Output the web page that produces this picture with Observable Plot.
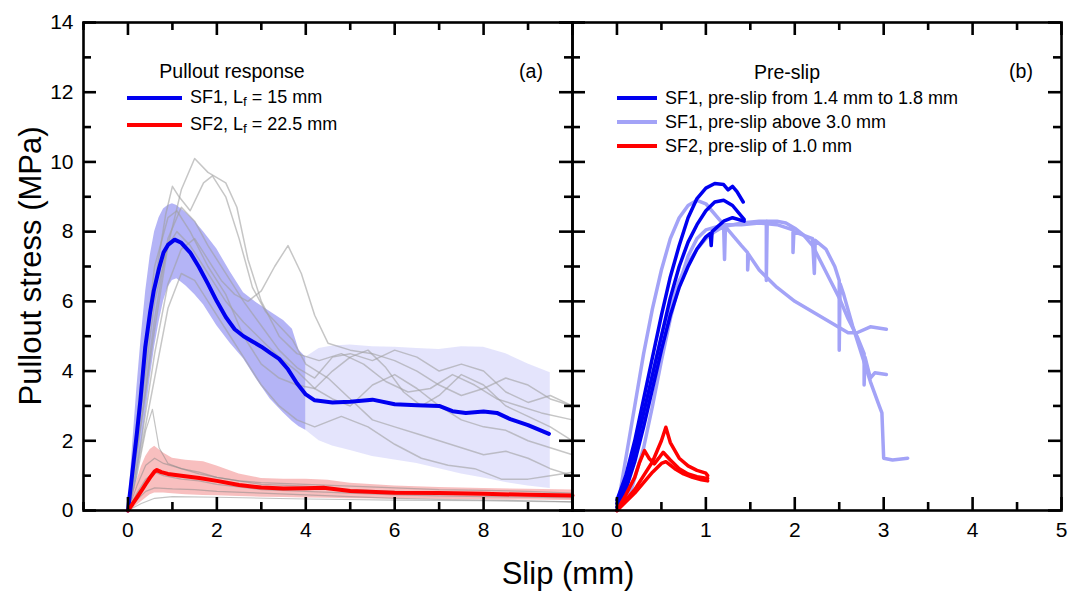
<!DOCTYPE html>
<html><head><meta charset="utf-8">
<script src="https://cdn.jsdelivr.net/npm/d3@7"></script>
<script src="https://cdn.jsdelivr.net/npm/@observablehq/plot@0.6"></script>
<style>
body{margin:0;background:#fff;font-family:"Liberation Sans",Arial,sans-serif;}
#wrap{position:relative;width:1070px;height:592px;overflow:hidden;}
.abs{position:absolute;white-space:nowrap;color:#000;line-height:1;}
.pl{position:absolute;top:0;}
.ln{position:absolute;height:4px;}
sub{font-size:0.75em;vertical-align:-0.25em;}
</style></head>
<body><div id="wrap"></div>
<script>
// ---------- tick values ----------
const yMajor = [0, 2, 4, 6, 8, 10, 12, 14];
const yMinor = [1, 3, 5, 7, 9, 11, 13];
const xMajorA = [0, 2, 4, 6, 8, 10];
const xMinorA = [-1, 1, 3, 5, 7, 9];
const xMajorB = [0, 1, 2, 3, 4, 5];
const xMinorB = [0.5, 1.5, 2.5, 3.5, 4.5];

// ---------- panel (a): mean curves ----------
const sf1Mean = [[0,0],[0.1,1.1],[0.2,2.2],[0.28,3.16],[0.39,4.7],[0.5,5.7],[0.58,6.3],[0.7,6.95],[0.8,7.4],[0.9,7.62],[1.05,7.77],[1.2,7.68],[1.4,7.4],[1.6,6.98],[1.8,6.5],[2.0,6.0],[2.2,5.55],[2.4,5.2],[2.6,5.0],[2.8,4.85],[3.0,4.7],[3.2,4.52],[3.4,4.35],[3.6,4.05],[3.8,3.65],[4.0,3.33],[4.2,3.16],[4.6,3.1],[5.0,3.12],[5.5,3.18],[6.0,3.05],[6.5,3.02],[7.0,3.0],[7.3,2.85],[7.6,2.8],[8.0,2.84],[8.3,2.8],[8.6,2.62],[9.0,2.45],[9.47,2.2]];
const sf2Mean = [[0,0],[0.1,0.18],[0.2,0.37],[0.3,0.56],[0.4,0.76],[0.5,0.95],[0.6,1.12],[0.65,1.16],[0.75,1.1],[0.9,1.05],[1.2,1.0],[1.6,0.93],[2.0,0.85],[2.5,0.73],[3.0,0.66],[3.5,0.63],[4.0,0.64],[4.4,0.65],[5.0,0.56],[6.0,0.51],[7.0,0.5],[8.0,0.48],[9.0,0.45],[10.0,0.43]];

// scatter bands [x, lower, upper]
const sf1BandNear = [[0,0,0],[0.1,0.3,1.8],[0.2,0.9,3.5],[0.3,1.8,5.0],[0.4,2.8,6.3],[0.5,3.8,7.3],[0.6,4.7,8.0],[0.7,5.4,8.4],[0.8,6.0,8.65],[0.9,6.4,8.75],[1.0,6.6,8.8],[1.1,6.65,8.75],[1.3,6.45,8.55],[1.5,6.2,8.3],[1.7,5.9,8.0],[2.0,5.3,7.5],[2.3,4.8,6.85],[2.6,4.35,6.25],[2.9,3.75,5.95],[3.2,3.2,5.7],[3.5,2.8,5.45],[3.7,2.55,5.2],[3.85,2.4,4.6],[4.0,2.3,4.4]];
const sf1BandFar = [[4.0,2.3,4.4],[4.3,2.0,4.65],[4.6,1.85,4.72],[5.0,1.72,4.75],[5.5,1.55,4.7],[6.0,1.45,4.68],[6.5,1.35,4.65],[7.0,1.2,4.62],[7.5,1.05,4.7],[8.0,0.93,4.68],[8.5,0.8,4.5],[9.0,0.7,4.2],[9.5,0.63,3.95]];
const sf2Band = [[0,0,0],[0.1,0.05,0.45],[0.2,0.15,0.85],[0.3,0.25,1.25],[0.4,0.35,1.55],[0.5,0.45,1.75],[0.6,0.5,1.84],[0.8,0.5,1.65],[1.0,0.48,1.5],[1.3,0.45,1.44],[1.7,0.43,1.4],[2.0,0.42,1.28],[2.5,0.4,1.05],[3.0,0.38,0.92],[3.5,0.37,0.9],[4.0,0.36,0.9],[4.5,0.35,0.87],[5.0,0.34,0.78],[6.0,0.33,0.7],[7.0,0.32,0.66],[8.0,0.31,0.63],[9.0,0.3,0.61],[10.0,0.29,0.59]];

// individual specimens (grey)
const sf1Spec1 = [[0,0],[0.3,2.5],[0.6,5.2],[0.9,7.6],[1.2,9.2],[1.5,10.1],[1.8,9.7],[2.2,9.4],[2.45,8.7],[2.7,7.2],[3.0,6.0],[3.4,5.0],[3.8,4.5],[4.3,4.3],[4.8,4.5],[5.3,4.2],[5.8,3.7],[6.3,3.4],[6.8,3.5],[7.3,3.9],[7.8,3.6],[8.3,3.2],[8.8,3.0],[9.3,2.8],[10,2.6]];
const sf1Spec2 = [[0,0],[0.3,3.3],[0.6,6.5],[0.85,8.5],[1.0,9.3],[1.15,9.0],[1.4,8.6],[1.7,9.4],[1.9,9.6],[2.2,9.0],[2.5,7.8],[2.8,6.4],[3.1,5.7],[3.4,5.3],[3.7,4.9],[4.0,4.2],[4.5,3.8],[5.0,3.2],[5.5,2.6],[6.0,2.4],[6.5,2.2],[7.0,2.0],[7.5,1.8],[8.0,1.6],[8.5,1.7],[9.0,1.5],[9.5,1.2],[10,1.0]];
const sf1Spec3 = [[0,0],[0.3,3.8],[0.6,7.0],[0.9,8.4],[1.1,8.6],[1.4,8.0],[1.8,7.0],[2.2,6.2],[2.6,5.0],[3.0,4.2],[3.4,3.8],[3.8,3.6],[4.2,3.5],[4.6,4.0],[5.0,4.4],[5.4,4.6],[5.8,4.1],[6.2,3.4],[6.6,3.0],[7.0,3.3],[7.5,3.9],[8.0,3.6],[8.5,3.0],[9.0,2.7],[9.5,2.4],[10,2.0]];
const sf1Spec4 = [[0,0],[0.3,2.0],[0.6,4.5],[0.9,6.5],[1.2,7.5],[1.5,7.8],[1.8,7.2],[2.1,6.6],[2.4,6.2],[2.7,6.0],[3.0,6.3],[3.3,7.0],[3.6,7.6],[3.9,6.8],[4.2,5.6],[4.5,4.8],[5.0,4.6],[5.5,4.5],[6.0,4.3],[6.5,4.0],[7.0,3.6],[7.5,3.3],[8.0,3.5],[8.5,3.8],[9.0,3.6],[9.5,3.2],[10,3.0]];
const sf1Spec5 = [[0,0],[0.3,1.8],[0.6,3.8],[0.9,5.8],[1.2,6.8],[1.5,6.6],[1.8,6.0],[2.2,5.2],[2.6,4.4],[3.0,3.6],[3.4,3.0],[3.8,2.6],[4.2,2.4],[4.8,2.7],[5.4,2.4],[6.0,1.9],[6.6,1.5],[7.2,1.3],[7.8,1.2],[8.4,0.9],[9.0,0.9],[9.5,1.0],[10,1.1]];
const sf1Spec6 = [[0,0],[0.3,3.0],[0.6,6.0],[0.9,7.6],[1.1,8.0],[1.4,7.6],[1.8,6.8],[2.2,6.0],[2.6,5.4],[3.0,4.9],[3.4,4.4],[3.8,4.0],[4.2,3.5],[4.6,3.2],[5.0,3.0],[5.5,3.6],[6.0,3.9],[6.5,3.5],[7.0,3.0],[7.5,2.6],[8.0,2.4],[8.5,2.3],[9.0,2.0],[9.5,1.8],[10,1.6]];
const sf1Spec7 = [[0,0],[0.3,2.6],[0.6,5.5],[0.9,7.8],[1.2,8.7],[1.5,8.3],[1.8,7.6],[2.2,6.8],[2.6,6.0],[3.0,5.3],[3.4,4.6],[3.8,4.1],[4.2,3.8],[4.6,4.4],[5.0,4.5],[5.5,4.3],[6.0,4.6],[6.5,4.4],[7.0,4.0],[7.5,4.2],[8.0,4.0],[8.5,3.4],[9.0,3.1],[9.5,3.3],[10,3.0]];
const sf2Spec1 = [[0,0],[0.2,1.0],[0.4,2.3],[0.55,2.9],[0.7,1.8],[0.9,1.35],[1.2,1.2],[1.6,1.1],[2,0.95],[3,0.75],[4,0.7],[5,0.6],[6,0.55],[7,0.52],[8,0.5],[9,0.45],[10,0.42]];
const sf2Spec2 = [[0,0],[0.2,0.7],[0.4,1.3],[0.6,1.5],[0.8,1.35],[1.2,1.2],[1.6,1.05],[2,0.95],[2.5,0.85],[3,0.8],[4,0.75],[5,0.7],[6,0.65],[7,0.6],[8,0.58],[9,0.55],[10,0.5]];
const sf2Spec3 = [[0,0],[0.2,0.5],[0.4,0.9],[0.6,1.1],[0.8,1.0],[1.2,0.9],[1.6,0.85],[2,0.75],[3,0.6],[4,0.55],[5,0.5],[6,0.45],[7,0.42],[8,0.4],[9,0.38],[10,0.36]];
const sf2Spec4 = [[0,0],[0.2,0.3],[0.4,0.55],[0.6,0.65],[1.0,0.62],[1.5,0.6],[2,0.55],[3,0.5],[4,0.45],[5,0.4],[6,0.35],[7,0.32],[8,0.3],[9,0.28],[10,0.25]];
const sf2Spec5 = [[0,0],[0.3,0.2],[0.6,0.35],[1,0.4],[2,0.38],[4,0.33],[6,0.3],[8,0.28],[10,0.25]];

// ---------- panel (b): pre-slip curves ----------
const preA1 = [[0,0.3],[0.1,1.0],[0.2,2.0],[0.3,3.2],[0.4,4.4],[0.5,5.6],[0.6,6.7],[0.7,7.6],[0.8,8.4],[0.9,8.95],[1.0,9.25],[1.1,9.38],[1.2,9.35],[1.25,9.2],[1.3,9.3],[1.35,9.15],[1.42,8.85]];
const preA2 = [[0,0.2],[0.1,0.8],[0.2,1.7],[0.3,2.8],[0.4,3.9],[0.5,5.0],[0.6,6.1],[0.7,7.0],[0.8,7.7],[0.9,8.2],[1.0,8.6],[1.1,8.85],[1.2,8.9],[1.3,8.75],[1.43,8.35]];
const preA3 = [[0,0.1],[0.1,0.6],[0.2,1.4],[0.3,2.4],[0.4,3.5],[0.5,4.6],[0.6,5.6],[0.7,6.4],[0.8,7.0],[0.9,7.5],[1.0,7.85],[1.05,7.95],[1.06,7.6],[1.07,8.0],[1.2,8.3],[1.3,8.4],[1.43,8.3]];
const preB1 = [[0,0],[0.1,1.5],[0.2,3.0],[0.3,4.5],[0.4,5.8],[0.5,6.9],[0.6,7.8],[0.7,8.4],[0.8,8.75],[0.9,8.9],[1.0,8.8],[1.2,8.2],[1.4,7.6],[1.47,7.4],[1.47,6.9],[1.48,7.35],[1.6,6.9],[1.8,6.4],[2.0,6.0],[2.2,5.7],[2.4,5.4],[2.6,5.1],[2.7,5.1],[2.85,5.27],[3.03,5.2]];
const preB2 = [[0,0],[0.1,0.7],[0.2,1.6],[0.3,2.7],[0.4,3.9],[0.5,5.0],[0.6,5.9],[0.7,6.6],[0.8,7.1],[0.9,7.5],[1.0,7.8],[1.1,8.0],[1.2,8.15],[1.21,7.2],[1.22,8.15],[1.4,8.25],[1.6,8.3],[1.68,8.3],[1.68,6.6],[1.69,8.3],[1.8,8.3],[1.9,8.25],[2.0,8.1],[2.1,7.9],[2.2,7.6],[2.3,7.1],[2.4,6.6],[2.5,6.1],[2.6,5.5],[2.7,5.0],[2.78,4.5],[2.78,3.6],[2.79,4.4],[2.85,3.8],[2.9,3.95],[3.03,3.9]];
const preB3 = [[0,0],[0.15,0.5],[0.3,1.8],[0.4,3.0],[0.5,4.3],[0.6,5.5],[0.7,6.5],[0.8,7.3],[0.9,7.8],[1.0,8.05],[1.2,8.2],[1.4,8.2],[1.6,8.25],[1.8,8.2],[1.98,8.05],[1.98,7.4],[1.99,8.0],[2.2,7.8],[2.22,6.8],[2.23,7.75],[2.35,7.5],[2.45,7.0],[2.5,6.6],[2.5,4.6],[2.51,6.5],[2.55,6.2],[2.65,5.3],[2.75,4.5],[2.85,3.7],[2.95,3.0],[2.98,2.8],[3.0,1.5],[3.1,1.45],[3.27,1.5]];
const preC1 = [[0,0],[0.1,0.3],[0.2,0.6],[0.3,1.0],[0.4,1.4],[0.45,1.7],[0.5,2.0],[0.55,2.39],[0.6,1.95],[0.7,1.5],[0.8,1.28],[0.9,1.15],[1.0,1.07],[1.02,1.0]];
const preC2 = [[0,0],[0.1,0.45],[0.2,0.95],[0.25,1.35],[0.31,1.72],[0.36,1.5],[0.42,1.34],[0.47,1.5],[0.52,1.67],[0.6,1.45],[0.7,1.2],[0.8,1.05],[0.9,0.97],[1.02,0.92]];
const preC3 = [[0,0],[0.1,0.25],[0.2,0.5],[0.3,0.8],[0.4,1.1],[0.5,1.35],[0.55,1.4],[0.65,1.2],[0.75,1.05],[0.85,0.95],[0.95,0.88],[1.02,0.85]];

// ---------- text ----------
const yTitle = "Pullout stress (MPa)";
const xTitle = "Slip (mm)";
const legendA = {title: "Pullout response", items: [["SF1, L", "f", " = 15 mm"], ["SF2, L", "f", " = 22.5 mm"]]};
const legendB = {title: "Pre-slip", items: ["SF1, pre-slip from 1.4 mm to 1.8 mm", "SF1, pre-slip above 3.0 mm", "SF2, pre-slip of 1.0 mm"]};
const panelTags = ["(a)", "(b)"];

// ---------- colours ----------
const BLUE = "#0000f0", RED = "#ff0000", LIGHTBLUE = "#a3a3f7";

// ---------- helpers ----------
const pts = (arr, id) => arr.map(([x, y]) => ({x, y, id}));
const band = arr => arr.map(([x, lo, hi]) => ({x, lo, hi}));
const FONT = "Liberation Sans";
const H = 592, MT = 22, MB = 82;
const INNER_H = H - MT - MB;
const SW = 2.6;
const Y_DOMAIN = [0, 14];

// inward ticks on all four sides, as rules whose length is converted from pixels to data units
function tickMarks(xDomain, xMajor, xMinor, innerW) {
  const [x0, x1] = xDomain, [y0, y1] = Y_DOMAIN;
  const ly = px => px * (y1 - y0) / INNER_H;
  const lx = px => px * (x1 - x0) / innerW;
  const st = {stroke: "#000", strokeWidth: SW};
  const m = [];
  for (const [ticks, len] of [[xMajor, 13], [xMinor, 8]]) {
    m.push(Plot.ruleX(ticks, {x: d => d, y1: y0, y2: y0 + ly(len), ...st}));
    m.push(Plot.ruleX(ticks, {x: d => d, y1: y1, y2: y1 - ly(len), ...st}));
  }
  for (const [ticks, len] of [[yMajor, 13], [yMinor, 8]]) {
    m.push(Plot.ruleY(ticks, {y: d => d, x1: x0, x2: x0 + lx(len), ...st}));
    m.push(Plot.ruleY(ticks, {y: d => d, x1: x1, x2: x1 - lx(len), ...st}));
  }
  return m;
}

const greySF1 = [sf1Spec1, sf1Spec2, sf1Spec3, sf1Spec4, sf1Spec5, sf1Spec6, sf1Spec7].flatMap((a, i) => pts(a, "g" + i));
const greySF2 = [sf2Spec1, sf2Spec2, sf2Spec3, sf2Spec4, sf2Spec5].flatMap((a, i) => pts(a, "r" + i));

const WA = 572, MLA = 83, MRA = 0, XDA = [-1, 10];
const plotA = Plot.plot({
  width: WA, height: H, marginLeft: MLA, marginRight: MRA, marginTop: MT, marginBottom: MB,
  style: {background: "transparent", overflow: "visible", fontFamily: FONT, color: "#000"},
  x: {domain: XDA, axis: null}, y: {domain: Y_DOMAIN, axis: null},
  marks: [
    Plot.areaY(band(sf1BandNear), {x: "x", y1: "lo", y2: "hi", fill: "#6a6aee", fillOpacity: 0.5}),
    Plot.areaY(band(sf1BandFar), {x: "x", y1: "lo", y2: "hi", fill: "#7a7aee", fillOpacity: 0.2}),
    Plot.areaY(band(sf2Band), {x: "x", y1: "lo", y2: "hi", fill: "#ee6060", fillOpacity: 0.4}),
    Plot.line(greySF1, {x: "x", y: "y", z: "id", stroke: "#a0a0a0", strokeOpacity: 0.6, strokeWidth: 1.5}),
    Plot.line(greySF2, {x: "x", y: "y", z: "id", stroke: "#888", strokeOpacity: 0.5, strokeWidth: 1.2}),
    Plot.line(pts(sf1Mean, "m1"), {x: "x", y: "y", stroke: BLUE, strokeWidth: 4}),
    Plot.line(pts(sf2Mean, "m2"), {x: "x", y: "y", stroke: RED, strokeWidth: 4}),
    ...tickMarks(XDA, xMajorA, xMinorA, WA - MLA - MRA),
    Plot.axisX(xMajorA, {anchor: "bottom", tickSize: 0, tickPadding: 12, fontSize: 21, label: null}),
    Plot.axisY(yMajor, {anchor: "left", tickSize: 0, tickPadding: 10, fontSize: 21, label: null}),
    Plot.frame({stroke: "#000", strokeWidth: SW})
  ]
});

const WB = 498, MLB = 0, MRB = 9, XDB = [-0.5, 5];
const plotB = Plot.plot({
  width: WB, height: H, marginLeft: MLB, marginRight: MRB, marginTop: MT, marginBottom: MB,
  style: {background: "transparent", overflow: "visible", fontFamily: FONT, color: "#000"},
  x: {domain: XDB, axis: null}, y: {domain: Y_DOMAIN, axis: null},
  marks: [
    Plot.line([preB1, preB2, preB3].flatMap((a, i) => pts(a, "b" + i)), {x: "x", y: "y", z: "id", stroke: LIGHTBLUE, strokeWidth: 3.5}),
    Plot.line([preA1, preA2, preA3].flatMap((a, i) => pts(a, "a" + i)), {x: "x", y: "y", z: "id", stroke: BLUE, strokeWidth: 3.5}),
    Plot.line([preC1, preC2, preC3].flatMap((a, i) => pts(a, "c" + i)), {x: "x", y: "y", z: "id", stroke: RED, strokeWidth: 3.5}),
    ...tickMarks(XDB, xMajorB, xMinorB, WB - MLB - MRB),
    Plot.axisX(xMajorB, {anchor: "bottom", tickSize: 0, tickPadding: 12, fontSize: 21, label: null}),
    Plot.frame({stroke: "#000", strokeWidth: SW})
  ]
});

const wrap = document.getElementById("wrap");
const dA = document.createElement("div"); dA.className = "pl"; dA.style.left = "0px"; dA.appendChild(plotA); wrap.appendChild(dA);
const dB = document.createElement("div"); dB.className = "pl"; dB.style.left = "572px"; dB.appendChild(plotB); wrap.appendChild(dB);

function addText(html, left, top, size, transform) {
  const e = document.createElement("div");
  e.className = "abs";
  e.innerHTML = html;
  e.style.left = left + "px"; e.style.top = top + "px"; e.style.fontSize = size + "px";
  e.style.transform = transform || "translate(0,-50%)";
  wrap.appendChild(e);
  return e;
}
function addLine(color, left, width, top) {
  const e = document.createElement("div");
  e.className = "ln";
  e.style.background = color; e.style.left = left + "px"; e.style.width = width + "px"; e.style.top = (top - 2) + "px";
  wrap.appendChild(e);
}

// axis titles
addText(yTitle, 30, 266, 31, "translate(-50%,-50%) rotate(-90deg)");
addText(xTitle, 568, 573, 31, "translate(-50%,-50%)");

// legend (a)
addText(legendA.title, 232, 72, 19.5, "translate(-50%,-50%)");
[BLUE, RED].forEach((c, i) => {
  const y = 98 + i * 27;
  addLine(c, 127, 55, y);
  const it = legendA.items[i];
  addText(`${it[0]}<sub>${it[1]}</sub>${it[2]}`, 190, y, 18);
});
// legend (b)
addText(legendB.title, 787, 73, 19.5, "translate(-50%,-50%)");
[BLUE, LIGHTBLUE, RED].forEach((c, i) => {
  const y = 98 + i * 24;
  addLine(c, 617, 40, y);
  addText(legendB.items[i], 665, y, 18);
});
// panel tags
addText(panelTags[0], 531, 72, 19.5, "translate(-50%,-50%)");
addText(panelTags[1], 1021, 72, 19.5, "translate(-50%,-50%)");
</script>
</body></html>
